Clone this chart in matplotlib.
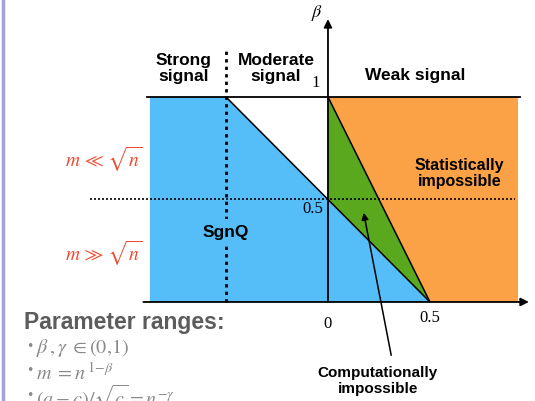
import matplotlib
matplotlib.use("Agg")
import matplotlib.pyplot as plt
from matplotlib.lines import Line2D

plt.rcParams['mathtext.fontset'] = 'stix'

# region corners (gamma, beta)
blue_g = [-0.873, -0.873, -0.5, 0.5]
blue_b = [0, 1, 1, 0]
green_g = [0, 0, 0.5]
green_b = [1, 0.5, 0]
orange_g = [0, 0.93, 0.93, 0.5]
orange_b = [1, 1, 0, 0]

x_ticks = [0, 0.5]
y_ticks = [0.5, 1]

blue = '#55bdf8'
green = '#5aa81e'
orange = '#fba146'
red = '#ef4a2f'
grey = '#5c5c5c'
lgrey = '#8a8a8a'

fig = plt.figure(figsize=(5.35, 4.01), dpi=100)
ax = fig.add_axes([0, 0, 1, 1])
ax.set_xlim(-1.608, 1.015)
ax.set_ylim(-0.483, 1.473)
ax.axis('off')

ax.fill(blue_g, blue_b, color=blue, lw=0)
ax.fill(orange_g, orange_b, color=orange, lw=0)
ax.fill(green_g, green_b, color=green, lw=0)

# boundaries
ax.plot([-0.885, 0.94], [1, 1], color='k', lw=1.3)
ax.plot([-0.5, 0.5], [1, 0], color='k', lw=1.1)
ax.plot([0, 0.5], [1, 0], color='k', lw=1.1)
ax.plot([-0.5, -0.5], [0, 1.23], color='k', lw=2, ls=(0, (1.2, 1.5)))
ax.plot([-1.167, 0.917], [0.5, 0.5], color='k', lw=1.2, ls=(0, (1.2, 1.2)))

# axes arrows
ax.annotate('', xy=(0.985, 0), xytext=(-0.905, 0),
            arrowprops=dict(arrowstyle='-|>', color='k', lw=1.3,
                            mutation_scale=12, shrinkA=0, shrinkB=0))
ax.annotate('', xy=(0, 1.38), xytext=(0, 0),
            arrowprops=dict(arrowstyle='-|>', color='k', lw=1.3,
                            mutation_scale=12, shrinkA=0, shrinkB=0))
ax.text(-0.055, 1.41, r'$\beta$', fontsize=13, ha='center', va='center')

for t in x_ticks:
    ax.text(t, -0.105 if t == 0 else -0.08, '%g' % t, fontsize=12,
            family='Liberation Serif', ha='center', va='center')
ax.text(-0.075, 0.452, '%g' % y_ticks[0], fontsize=12,
        family='Liberation Serif', ha='center', va='center')
ax.text(-0.06, 1.07, '%g' % y_ticks[1], fontsize=12,
        family='Liberation Serif', ha='center', va='center')

bold = dict(family='Liberation Sans', weight='bold', ha='center', va='center')
ax.text(-0.71, 1.14, 'Strong\nsignal', fontsize=12.5, linespacing=1.05, **bold)
ax.text(-0.255, 1.14, 'Moderate\nsignal', fontsize=12.5, linespacing=1.05, **bold)
ax.text(0.43, 1.105, 'Weak signal', fontsize=12.5, **bold)
ax.text(0.645, 0.625, 'Statistically\nimpossible', fontsize=11.5,
        linespacing=1.1, **bold)
ax.text(-0.5, 0.34, 'SgnQ', fontsize=12.5,
        bbox=dict(facecolor=blue, edgecolor='none', pad=4), **bold)
ax.text(0.245, -0.385, 'Computationally\nimpossible', fontsize=11,
        linespacing=1.15, **bold)
ax.annotate('', xy=(0.175, 0.435), xytext=(0.31, -0.26),
            arrowprops=dict(arrowstyle='-|>', color='k', lw=1.1,
                            mutation_scale=10, shrinkA=0, shrinkB=0))

ax.text(-0.91, 0.695, r'$m\,\ll\,\sqrt{n}$', fontsize=14, color=red,
        ha='right', va='center')
ax.text(-0.91, 0.235, r'$m\,\gg\,\sqrt{n}$', fontsize=14, color=red,
        ha='right', va='center')

ax.text(-1.488, -0.1, 'Parameter ranges:', fontsize=16.5, color=grey,
        family='Liberation Sans', weight='bold', ha='left', va='center')
bullets = [r'$\beta\,,\gamma\;\in (0{,}1)$', r'$m\;=n^{\,1\!-\!\beta}$',
           r'$(a-c)/\sqrt{c} = n^{-\gamma}$']
for i, s in enumerate(bullets):
    yy = -0.225 - 0.12 * i
    ax.text(-1.482, yy + 0.01, u'\u2022', fontsize=9, color=lgrey, ha='left',
            va='center')
    ax.text(-1.43, yy, s, fontsize=14.5, color=lgrey, ha='left', va='center')

fig.add_artist(Line2D([0.006, 0.006], [0, 1], color='#a3a3dc', lw=2.5))

fig.savefig('out.png', dpi=100)
